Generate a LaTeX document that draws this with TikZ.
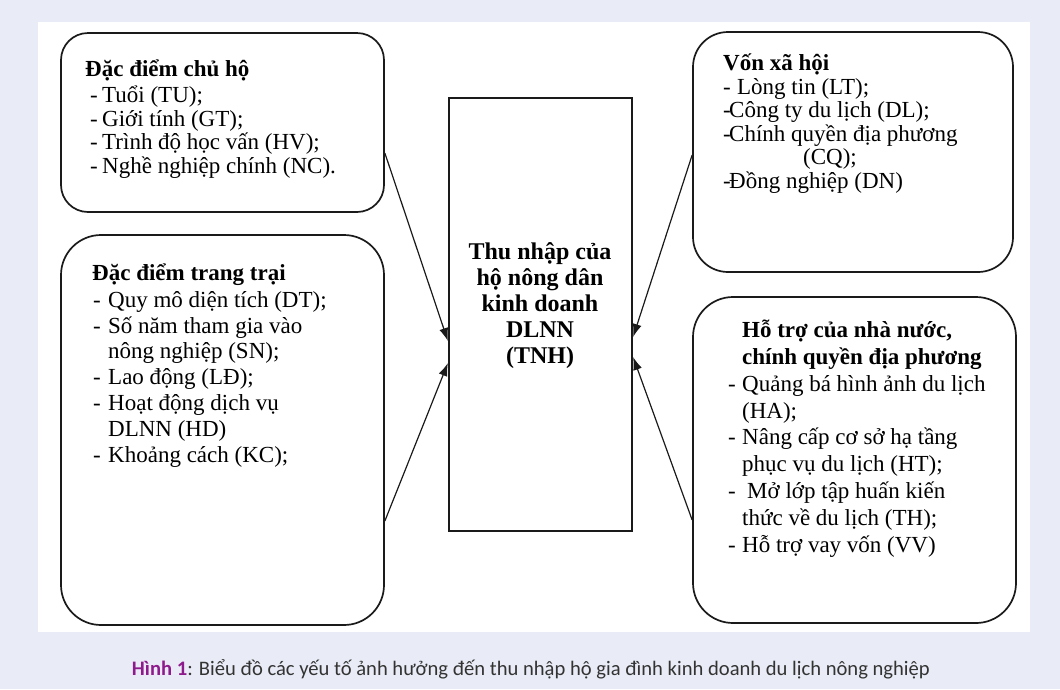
\documentclass[tikz,border=0pt]{standalone}
\usepackage{fontspec}
\setmainfont{Liberation Serif}
\newfontfamily\capfont{Carlito}
\usetikzlibrary{positioning,arrows.meta}
\definecolor{pagebg}{HTML}{E9ECF6}
\definecolor{capviolet}{HTML}{8E1B8C}
\definecolor{capgrey}{HTML}{333333}
\definecolor{edge}{HTML}{1A1A1A}
\newcommand{\li}[1][12pt]{\makebox[#1][l]{-}}

\tikzset{
  factor/.style={draw=edge, line width=1.7pt, rounded corners=#1, inner sep=0pt},
  listtxt/.style={align=left, inner sep=0pt, anchor=base west, text=black},
  conn/.style={draw=edge, line width=1.2pt, -{Latex[length=13pt,width=9pt]}}
}

\begin{document}
\begin{tikzpicture}[x=1pt,y=-1pt]
\useasboundingbox (0,0) rectangle (1060,689);
\fill[pagebg] (0,0) rectangle (1060,689);
\fill[white] (38,22) rectangle (1030,632);

% factor boxes
\node[factor=27pt, minimum width=323pt, minimum height=179pt] (chuho) at (222.5,122.5) {};
\node[factor=40pt, minimum width=323pt, minimum height=390pt] (trangtrai) at (222.5,430) {};
\node[factor=35pt, minimum width=320pt, minimum height=240pt] (vonxh) at (853,152) {};
\node[factor=40pt, minimum width=323pt, minimum height=326pt] (hotro) at (854.5,460) {};
\node[draw=edge, line width=2.2pt, minimum width=183pt, minimum height=433pt, inner sep=0pt] (tnh) at (540.5,314.5) {};

% texts (anchored at the last line)
\node[listtxt, font=\fontsize{23}{23.5}\selectfont] (chuhotxt) at (85,173)
  {\textbf{Đặc điểm chủ hộ}\\[3pt]
   \hspace*{5pt}\li Tuổi (TU);\\
   \hspace*{5pt}\li Giới tính (GT);\\
   \hspace*{5pt}\li Trình độ học vấn (HV);\\
   \hspace*{5pt}\li Nghề nghiệp chính (NC).};
\node[listtxt, font=\fontsize{23}{25.8}\selectfont] (trangtraitxt) at (92,462)
  {\textbf{Đặc điểm trang trại}\\[1pt]
   \hspace*{1pt}\li[15pt]Quy mô diện tích (DT);\\
   \hspace*{1pt}\li[15pt]Số năm tham gia vào\\
   \hspace*{16pt}nông nghiệp (SN);\\
   \hspace*{1pt}\li[15pt]Lao động (LĐ);\\
   \hspace*{1pt}\li[15pt]Hoạt động dịch vụ\\
   \hspace*{16pt}DLNN (HD)\\
   \hspace*{1pt}\li[15pt]Khoảng cách (KC);};
\node[listtxt, font=\fontsize{23}{23.5}\selectfont] (vonxhtxt) at (723,188)
  {\textbf{Vốn xã hội}\\
   \li[14pt]Lòng tin (LT);\\
   \li[6pt]Công ty du lịch (DL);\\
   \li[6pt]Chính quyền địa phương\\
   \hspace*{80pt}(CQ);\\
   \li[6pt]Đồng nghiệp (DN)};
\node[listtxt, font=\fontsize{23}{26.8}\selectfont] (hotrotxt) at (728,552)
  {\hspace*{14pt}\textbf{Hỗ trợ của nhà nước,}\\
   \hspace*{14pt}\textbf{chính quyền địa phương}\\
   \li[14pt]Quảng bá hình ảnh du lịch\\
   \hspace*{14pt}(HA);\\
   \li[14pt]Nâng cấp cơ sở hạ tầng\\
   \hspace*{14pt}phục vụ du lịch (HT);\\
   \li[19pt]Mở lớp tập huấn kiến\\
   \hspace*{14pt}thức về du lịch (TH);\\
   \li[14pt]Hỗ trợ vay vốn (VV)};
\node[align=center, inner sep=0pt, anchor=base, font=\bfseries\fontsize{24}{25.8}\selectfont] (tnhtxt) at (540,363)
  {Thu nhập của\\hộ nông dân\\kinh doanh\\DLNN\\(TNH)};

% connectors
\draw[conn] ([yshift=-30.5pt]chuho.east) -- ([yshift=-26.5pt]tnh.west);
\draw[conn] ([yshift=-91pt]trangtrai.east) -- ([yshift=-48.5pt]tnh.west);
\draw[conn] ([yshift=-3pt]vonxh.west) -- ([yshift=-22.5pt]tnh.east);
\draw[conn] ([yshift=-60pt]hotro.west) -- ([yshift=-42.5pt]tnh.east);

% caption
\node[anchor=base, inner sep=0pt, text=capgrey, font=\capfont\fontsize{20.6}{24}\selectfont] (caption) at (531,675)
  {\textcolor{capviolet}{\textbf{Hình 1}}: Biểu đồ các yếu tố ảnh hưởng đến thu nhập hộ gia đình kinh doanh du lịch nông nghiệp};
\end{tikzpicture}
\end{document}
